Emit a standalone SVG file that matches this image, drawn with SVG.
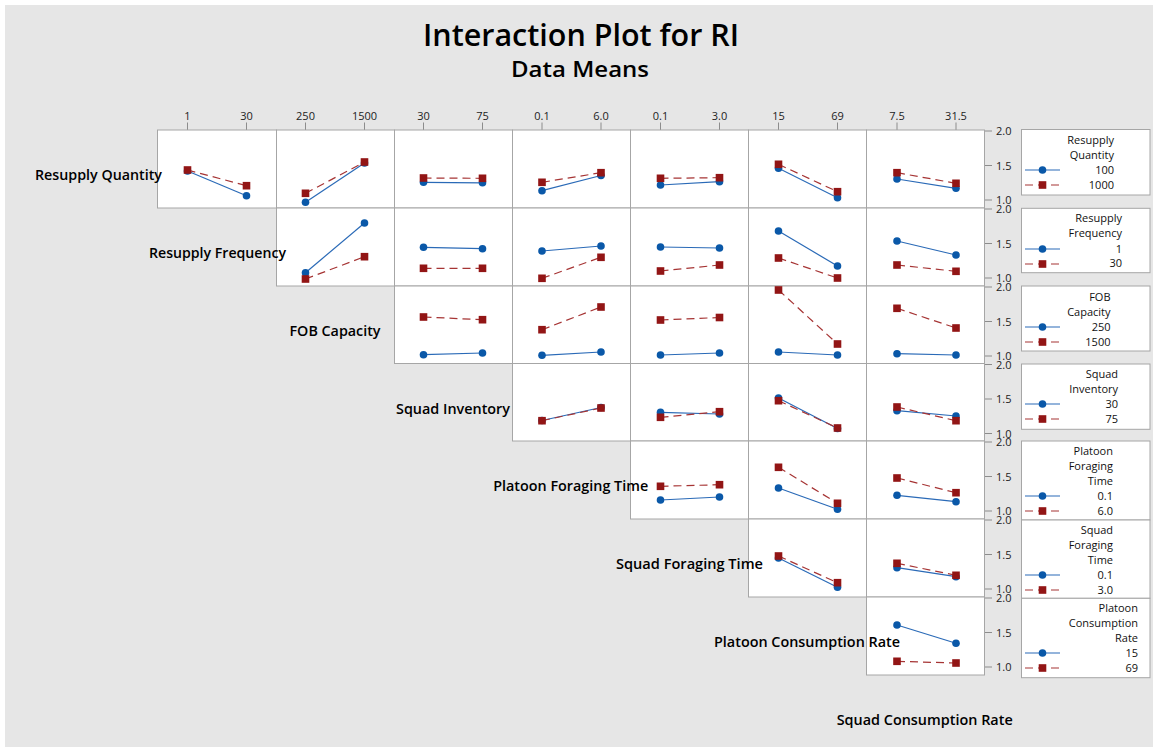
<svg xmlns="http://www.w3.org/2000/svg" xmlns:xlink="http://www.w3.org/1999/xlink" width="1153" height="747" viewBox="0 0 1153 747">
<style>
text{font-family:"Open Sans","Liberation Sans",sans-serif;fill:#000}
.t{font-size:31px;font-weight:600}
.st{font-size:22px;font-weight:600}
.rl{font-size:14.5px;font-weight:600}
.tk{font-size:11px;fill:#222}
.lg{font-size:11px;fill:#111}
.pf{fill:#fff;stroke:#a6a6a6;stroke-width:1}
.lb{fill:#fff;stroke:#a6a6a6;stroke-width:1}
.tl{stroke:#8c8c8c;stroke-width:1}
.bl{fill:none;stroke:#2a6ab7;stroke-width:1.2}
.rd{fill:none;stroke:#a63434;stroke-width:1.2;stroke-dasharray:8 5}
.bm{fill:#0a58a8}
.rm{fill:#921515}
</style>
<defs>
<circle id="c" r="3.8"/>
<rect id="s" x="-3.8" y="-3.8" width="7.6" height="7.6"/>
</defs>
<rect x="0" y="0" width="1153" height="747" fill="#fff"/>
<rect x="5" y="5" width="1148" height="742" fill="#e6e6e6"/>

<g id="title">
<text class="t" x="581" y="46" text-anchor="middle" textLength="316" lengthAdjust="spacingAndGlyphs">Interaction Plot for RI</text>
<text class="st" x="580" y="77" text-anchor="middle" textLength="138" lengthAdjust="spacingAndGlyphs">Data Means</text>
</g>

<g id="top-axis">
<g class="tl">
<line x1="187.5" y1="122.5" x2="187.5" y2="130"/><line x1="246.5" y1="122.5" x2="246.5" y2="130"/>
<line x1="305.5" y1="122.5" x2="305.5" y2="130"/><line x1="364.5" y1="122.5" x2="364.5" y2="130"/>
<line x1="423.5" y1="122.5" x2="423.5" y2="130"/><line x1="482.5" y1="122.5" x2="482.5" y2="130"/>
<line x1="542" y1="122.5" x2="542" y2="130"/><line x1="601" y1="122.5" x2="601" y2="130"/>
<line x1="660.5" y1="122.5" x2="660.5" y2="130"/><line x1="719.5" y1="122.5" x2="719.5" y2="130"/>
<line x1="778.5" y1="122.5" x2="778.5" y2="130"/><line x1="837.5" y1="122.5" x2="837.5" y2="130"/>
<line x1="897" y1="122.5" x2="897" y2="130"/><line x1="956" y1="122.5" x2="956" y2="130"/>
</g>
<g text-anchor="middle">
<text class="tk" x="187.5" y="120">1</text><text class="tk" x="246.5" y="120">30</text>
<text class="tk" x="305.5" y="120">250</text><text class="tk" x="364.5" y="120">1500</text>
<text class="tk" x="423.5" y="120">30</text><text class="tk" x="482.5" y="120">75</text>
<text class="tk" x="542" y="120">0.1</text><text class="tk" x="601" y="120">6.0</text>
<text class="tk" x="660.5" y="120">0.1</text><text class="tk" x="719.5" y="120">3.0</text>
<text class="tk" x="778.5" y="120">15</text><text class="tk" x="837.5" y="120">69</text>
<text class="tk" x="897" y="120">7.5</text><text class="tk" x="956" y="120">31.5</text>
</g>
</g>

<g id="right-axis">
<g class="tl">
<line x1="984.5" y1="131" x2="992" y2="131"/><line x1="984.5" y1="165.5" x2="992" y2="165.5"/><line x1="984.5" y1="200" x2="992" y2="200"/>
<line x1="984.5" y1="209" x2="992" y2="209"/><line x1="984.5" y1="243.5" x2="992" y2="243.5"/><line x1="984.5" y1="278" x2="992" y2="278"/>
<line x1="984.5" y1="287" x2="992" y2="287"/><line x1="984.5" y1="321.5" x2="992" y2="321.5"/><line x1="984.5" y1="356" x2="992" y2="356"/>
<line x1="984.5" y1="364.5" x2="992" y2="364.5"/><line x1="984.5" y1="399" x2="992" y2="399"/><line x1="984.5" y1="433.5" x2="992" y2="433.5"/>
<line x1="984.5" y1="442" x2="992" y2="442"/><line x1="984.5" y1="476.5" x2="992" y2="476.5"/><line x1="984.5" y1="511" x2="992" y2="511"/>
<line x1="984.5" y1="520" x2="992" y2="520"/><line x1="984.5" y1="554.5" x2="992" y2="554.5"/><line x1="984.5" y1="589" x2="992" y2="589"/>
<line x1="984.5" y1="598" x2="992" y2="598"/><line x1="984.5" y1="632.5" x2="992" y2="632.5"/><line x1="984.5" y1="667" x2="992" y2="667"/>
</g>
<g>
<text class="tk" x="996" y="135">2.0</text><text class="tk" x="996" y="169.5">1.5</text><text class="tk" x="996" y="204">1.0</text>
<text class="tk" x="996" y="213">2.0</text><text class="tk" x="996" y="247.5">1.5</text><text class="tk" x="996" y="282">1.0</text>
<text class="tk" x="996" y="291">2.0</text><text class="tk" x="996" y="325.5">1.5</text><text class="tk" x="996" y="360">1.0</text>
<text class="tk" x="996" y="368.5">2.0</text><text class="tk" x="996" y="403">1.5</text><text class="tk" x="996" y="437.5">1.0</text>
<text class="tk" x="996" y="446">2.0</text><text class="tk" x="996" y="480.5">1.5</text><text class="tk" x="996" y="515">1.0</text>
<text class="tk" x="996" y="524">2.0</text><text class="tk" x="996" y="558.5">1.5</text><text class="tk" x="996" y="593">1.0</text>
<text class="tk" x="996" y="602">2.0</text><text class="tk" x="996" y="636.5">1.5</text><text class="tk" x="996" y="671">1.0</text>
</g>
</g>

<!-- Row 1 -->
<g id="p11"><rect class="pf" x="157.5" y="130" width="119" height="78"/>
<polyline class="bl" points="187.5,171 246.5,195.7"/><use href="#c" class="bm" x="187.5" y="171"/><use href="#c" class="bm" x="246.5" y="195.7"/>
<polyline class="rd" points="187.5,170 246.5,185.7"/><use href="#s" class="rm" x="187.5" y="170"/><use href="#s" class="rm" x="246.5" y="185.7"/></g>
<g id="p12"><rect class="pf" x="276.5" y="130" width="118" height="78"/>
<polyline class="bl" points="305.5,202.3 364.5,163"/><use href="#c" class="bm" x="305.5" y="202.3"/><use href="#c" class="bm" x="364.5" y="163"/>
<polyline class="rd" points="305.5,193.3 364.5,162"/><use href="#s" class="rm" x="305.5" y="193.3"/><use href="#s" class="rm" x="364.5" y="162"/></g>
<g id="p13"><rect class="pf" x="394.5" y="130" width="118" height="78"/>
<polyline class="bl" points="423.5,182.3 482.5,182.8"/><use href="#c" class="bm" x="423.5" y="182.3"/><use href="#c" class="bm" x="482.5" y="182.8"/>
<polyline class="rd" points="423.5,178 482.5,178.3"/><use href="#s" class="rm" x="423.5" y="178"/><use href="#s" class="rm" x="482.5" y="178.3"/></g>
<g id="p14"><rect class="pf" x="512.5" y="130" width="118" height="78"/>
<polyline class="bl" points="542,190.7 601,175.5"/><use href="#c" class="bm" x="542" y="190.7"/><use href="#c" class="bm" x="601" y="175.5"/>
<polyline class="rd" points="542,182.3 601,172.7"/><use href="#s" class="rm" x="542" y="182.3"/><use href="#s" class="rm" x="601" y="172.7"/></g>
<g id="p15"><rect class="pf" x="630.5" y="130" width="118" height="78"/>
<polyline class="bl" points="660.5,185 719.5,181.7"/><use href="#c" class="bm" x="660.5" y="185"/><use href="#c" class="bm" x="719.5" y="181.7"/>
<polyline class="rd" points="660.5,178.3 719.5,177.7"/><use href="#s" class="rm" x="660.5" y="178.3"/><use href="#s" class="rm" x="719.5" y="177.7"/></g>
<g id="p16"><rect class="pf" x="748.5" y="130" width="118" height="78"/>
<polyline class="bl" points="778.5,168.3 837.5,197.7"/><use href="#c" class="bm" x="778.5" y="168.3"/><use href="#c" class="bm" x="837.5" y="197.7"/>
<polyline class="rd" points="778.5,164.3 837.5,191.7"/><use href="#s" class="rm" x="778.5" y="164.3"/><use href="#s" class="rm" x="837.5" y="191.7"/></g>
<g id="p17"><rect class="pf" x="866.5" y="130" width="118" height="78"/>
<polyline class="bl" points="897,179 956,188.3"/><use href="#c" class="bm" x="897" y="179"/><use href="#c" class="bm" x="956" y="188.3"/>
<polyline class="rd" points="897,172.7 956,183.3"/><use href="#s" class="rm" x="897" y="172.7"/><use href="#s" class="rm" x="956" y="183.3"/></g>

<!-- Row 2 -->
<g id="p22"><rect class="pf" x="276.5" y="208" width="118" height="78"/>
<polyline class="bl" points="305.5,272.7 364.5,223"/><use href="#c" class="bm" x="305.5" y="272.7"/><use href="#c" class="bm" x="364.5" y="223"/>
<polyline class="rd" points="305.5,279 364.5,256.7"/><use href="#s" class="rm" x="305.5" y="279"/><use href="#s" class="rm" x="364.5" y="256.7"/></g>
<g id="p23"><rect class="pf" x="394.5" y="208" width="118" height="78"/>
<polyline class="bl" points="423.5,247.3 482.5,248.7"/><use href="#c" class="bm" x="423.5" y="247.3"/><use href="#c" class="bm" x="482.5" y="248.7"/>
<polyline class="rd" points="423.5,268.3 482.5,268.3"/><use href="#s" class="rm" x="423.5" y="268.3"/><use href="#s" class="rm" x="482.5" y="268.3"/></g>
<g id="p24"><rect class="pf" x="512.5" y="208" width="118" height="78"/>
<polyline class="bl" points="542,251 601,246"/><use href="#c" class="bm" x="542" y="251"/><use href="#c" class="bm" x="601" y="246"/>
<polyline class="rd" points="542,278.3 601,257.3"/><use href="#s" class="rm" x="542" y="278.3"/><use href="#s" class="rm" x="601" y="257.3"/></g>
<g id="p25"><rect class="pf" x="630.5" y="208" width="118" height="78"/>
<polyline class="bl" points="660.5,247 719.5,248"/><use href="#c" class="bm" x="660.5" y="247"/><use href="#c" class="bm" x="719.5" y="248"/>
<polyline class="rd" points="660.5,271 719.5,265"/><use href="#s" class="rm" x="660.5" y="271"/><use href="#s" class="rm" x="719.5" y="265"/></g>
<g id="p26"><rect class="pf" x="748.5" y="208" width="118" height="78"/>
<polyline class="bl" points="778.5,231 837.5,266"/><use href="#c" class="bm" x="778.5" y="231"/><use href="#c" class="bm" x="837.5" y="266"/>
<polyline class="rd" points="778.5,258 837.5,278"/><use href="#s" class="rm" x="778.5" y="258"/><use href="#s" class="rm" x="837.5" y="278"/></g>
<g id="p27"><rect class="pf" x="866.5" y="208" width="118" height="78"/>
<polyline class="bl" points="897,241 956,255"/><use href="#c" class="bm" x="897" y="241"/><use href="#c" class="bm" x="956" y="255"/>
<polyline class="rd" points="897,265 956,271.3"/><use href="#s" class="rm" x="897" y="265"/><use href="#s" class="rm" x="956" y="271.3"/></g>

<!-- Row 3 -->
<g id="p33"><rect class="pf" x="394.5" y="286" width="118" height="77.5"/>
<polyline class="bl" points="423.5,354.7 482.5,353"/><use href="#c" class="bm" x="423.5" y="354.7"/><use href="#c" class="bm" x="482.5" y="353"/>
<polyline class="rd" points="423.5,317 482.5,319.7"/><use href="#s" class="rm" x="423.5" y="317"/><use href="#s" class="rm" x="482.5" y="319.7"/></g>
<g id="p34"><rect class="pf" x="512.5" y="286" width="118" height="77.5"/>
<polyline class="bl" points="542,355.3 601,352"/><use href="#c" class="bm" x="542" y="355.3"/><use href="#c" class="bm" x="601" y="352"/>
<polyline class="rd" points="542,329.7 601,307"/><use href="#s" class="rm" x="542" y="329.7"/><use href="#s" class="rm" x="601" y="307"/></g>
<g id="p35"><rect class="pf" x="630.5" y="286" width="118" height="77.5"/>
<polyline class="bl" points="660.5,355 719.5,353"/><use href="#c" class="bm" x="660.5" y="355"/><use href="#c" class="bm" x="719.5" y="353"/>
<polyline class="rd" points="660.5,320 719.5,317.5"/><use href="#s" class="rm" x="660.5" y="320"/><use href="#s" class="rm" x="719.5" y="317.5"/></g>
<g id="p36"><rect class="pf" x="748.5" y="286" width="118" height="77.5"/>
<polyline class="bl" points="778.5,352 837.5,355"/><use href="#c" class="bm" x="778.5" y="352"/><use href="#c" class="bm" x="837.5" y="355"/>
<polyline class="rd" points="778.5,290 837.5,344"/><use href="#s" class="rm" x="778.5" y="290"/><use href="#s" class="rm" x="837.5" y="344"/></g>
<g id="p37"><rect class="pf" x="866.5" y="286" width="118" height="77.5"/>
<polyline class="bl" points="897,353.7 956,355"/><use href="#c" class="bm" x="897" y="353.7"/><use href="#c" class="bm" x="956" y="355"/>
<polyline class="rd" points="897,308.3 956,328"/><use href="#s" class="rm" x="897" y="308.3"/><use href="#s" class="rm" x="956" y="328"/></g>

<!-- Row 4 -->
<g id="p44"><rect class="pf" x="512.5" y="363.5" width="118" height="77.5"/>
<polyline class="bl" points="542,420.5 601,407.5"/><use href="#c" class="bm" x="542" y="420.5"/><use href="#c" class="bm" x="601" y="407.5"/>
<polyline class="rd" points="542,420.7 601,408"/><use href="#s" class="rm" x="542" y="420.7"/><use href="#s" class="rm" x="601" y="408"/></g>
<g id="p45"><rect class="pf" x="630.5" y="363.5" width="118" height="77.5"/>
<polyline class="bl" points="660.5,412.3 719.5,414"/><use href="#c" class="bm" x="660.5" y="412.3"/><use href="#c" class="bm" x="719.5" y="414"/>
<polyline class="rd" points="660.5,417.3 719.5,411.7"/><use href="#s" class="rm" x="660.5" y="417.3"/><use href="#s" class="rm" x="719.5" y="411.7"/></g>
<g id="p46"><rect class="pf" x="748.5" y="363.5" width="118" height="77.5"/>
<polyline class="bl" points="778.5,398 837.5,428.5"/><use href="#c" class="bm" x="778.5" y="398"/><use href="#c" class="bm" x="837.5" y="428.5"/>
<polyline class="rd" points="778.5,400.7 837.5,428"/><use href="#s" class="rm" x="778.5" y="400.7"/><use href="#s" class="rm" x="837.5" y="428"/></g>
<g id="p47"><rect class="pf" x="866.5" y="363.5" width="118" height="77.5"/>
<polyline class="bl" points="897,410.7 956,416"/><use href="#c" class="bm" x="897" y="410.7"/><use href="#c" class="bm" x="956" y="416"/>
<polyline class="rd" points="897,407 956,420.7"/><use href="#s" class="rm" x="897" y="407"/><use href="#s" class="rm" x="956" y="420.7"/></g>

<!-- Row 5 -->
<g id="p55"><rect class="pf" x="630.5" y="441" width="118" height="78"/>
<polyline class="bl" points="660.5,500 719.5,497"/><use href="#c" class="bm" x="660.5" y="500"/><use href="#c" class="bm" x="719.5" y="497"/>
<polyline class="rd" points="660.5,486.3 719.5,484.7"/><use href="#s" class="rm" x="660.5" y="486.3"/><use href="#s" class="rm" x="719.5" y="484.7"/></g>
<g id="p56"><rect class="pf" x="748.5" y="441" width="118" height="78"/>
<polyline class="bl" points="778.5,488 837.5,509.3"/><use href="#c" class="bm" x="778.5" y="488"/><use href="#c" class="bm" x="837.5" y="509.3"/>
<polyline class="rd" points="778.5,467.3 837.5,503.3"/><use href="#s" class="rm" x="778.5" y="467.3"/><use href="#s" class="rm" x="837.5" y="503.3"/></g>
<g id="p57"><rect class="pf" x="866.5" y="441" width="118" height="78"/>
<polyline class="bl" points="897,495.3 956,501.7"/><use href="#c" class="bm" x="897" y="495.3"/><use href="#c" class="bm" x="956" y="501.7"/>
<polyline class="rd" points="897,478 956,492.7"/><use href="#s" class="rm" x="897" y="478"/><use href="#s" class="rm" x="956" y="492.7"/></g>

<!-- Row 6 -->
<g id="p66"><rect class="pf" x="748.5" y="519" width="118" height="78"/>
<polyline class="bl" points="778.5,558 837.5,587.3"/><use href="#c" class="bm" x="778.5" y="558"/><use href="#c" class="bm" x="837.5" y="587.3"/>
<polyline class="rd" points="778.5,556 837.5,582.7"/><use href="#s" class="rm" x="778.5" y="556"/><use href="#s" class="rm" x="837.5" y="582.7"/></g>
<g id="p67"><rect class="pf" x="866.5" y="519" width="118" height="78"/>
<polyline class="bl" points="897,567.7 956,576.7"/><use href="#c" class="bm" x="897" y="567.7"/><use href="#c" class="bm" x="956" y="576.7"/>
<polyline class="rd" points="897,563.3 956,575.3"/><use href="#s" class="rm" x="897" y="563.3"/><use href="#s" class="rm" x="956" y="575.3"/></g>

<!-- Row 7 -->
<g id="p77"><rect class="pf" x="866.5" y="597" width="118" height="78"/>
<polyline class="bl" points="897,625 956,643.3"/><use href="#c" class="bm" x="897" y="625"/><use href="#c" class="bm" x="956" y="643.3"/>
<polyline class="rd" points="897,661.3 956,663"/><use href="#s" class="rm" x="897" y="661.3"/><use href="#s" class="rm" x="956" y="663"/></g>

<!-- Row labels (drawn over panels) -->
<g id="row-labels" text-anchor="middle">
<text class="rl" x="98.5" y="180" textLength="127" lengthAdjust="spacingAndGlyphs">Resupply Quantity</text>
<text class="rl" x="217.5" y="258" textLength="137" lengthAdjust="spacingAndGlyphs">Resupply Frequency</text>
<text class="rl" x="335" y="336" textLength="91" lengthAdjust="spacingAndGlyphs">FOB Capacity</text>
<text class="rl" x="453" y="413.5" textLength="114" lengthAdjust="spacingAndGlyphs">Squad Inventory</text>
<text class="rl" x="570.7" y="491" textLength="155" lengthAdjust="spacingAndGlyphs">Platoon Foraging Time</text>
<text class="rl" x="689.5" y="569" textLength="147" lengthAdjust="spacingAndGlyphs">Squad Foraging Time</text>
<text class="rl" x="807" y="647" textLength="186" lengthAdjust="spacingAndGlyphs">Platoon Consumption Rate</text>
<text class="rl" x="924.7" y="725" textLength="176" lengthAdjust="spacingAndGlyphs">Squad Consumption Rate</text>
</g>

<!-- Legends -->
<g id="leg1"><rect class="lb" x="1021.5" y="129.5" width="128.5" height="65.5"/>
<g text-anchor="end"><text class="lg" x="1114" y="144">Resupply</text><text class="lg" x="1114" y="159">Quantity</text><text class="lg" x="1114" y="174">100</text><text class="lg" x="1114" y="189">1000</text></g>
<line class="bl" x1="1025" y1="170" x2="1060" y2="170"/><use href="#c" class="bm" x="1042.5" y="170"/>
<line class="rd" x1="1025" y1="185" x2="1060" y2="185"/><use href="#s" class="rm" x="1042.5" y="185"/></g>

<g id="leg2"><rect class="lb" x="1021.5" y="208.3" width="128.5" height="64.4"/>
<g text-anchor="end"><text class="lg" x="1122" y="222">Resupply</text><text class="lg" x="1122" y="237">Frequency</text><text class="lg" x="1122" y="252.5">1</text><text class="lg" x="1122" y="267">30</text></g>
<line class="bl" x1="1025" y1="249" x2="1060" y2="249"/><use href="#c" class="bm" x="1042.5" y="249"/>
<line class="rd" x1="1025" y1="264" x2="1060" y2="264"/><use href="#s" class="rm" x="1042.5" y="264"/></g>

<g id="leg3"><rect class="lb" x="1021.5" y="286" width="128.5" height="65"/>
<g text-anchor="end"><text class="lg" x="1110.5" y="301">FOB</text><text class="lg" x="1110.5" y="316">Capacity</text><text class="lg" x="1110.5" y="331">250</text><text class="lg" x="1110.5" y="346">1500</text></g>
<line class="bl" x1="1025" y1="327" x2="1060" y2="327"/><use href="#c" class="bm" x="1042.5" y="327"/>
<line class="rd" x1="1025" y1="342" x2="1060" y2="342"/><use href="#s" class="rm" x="1042.5" y="342"/></g>

<g id="leg4"><rect class="lb" x="1021.5" y="364" width="128.5" height="65.3"/>
<g text-anchor="end"><text class="lg" x="1118" y="378">Squad</text><text class="lg" x="1118" y="393">Inventory</text><text class="lg" x="1118" y="408">30</text><text class="lg" x="1118" y="423">75</text></g>
<line class="bl" x1="1025" y1="404" x2="1060" y2="404"/><use href="#c" class="bm" x="1042.5" y="404"/>
<line class="rd" x1="1025" y1="419" x2="1060" y2="419"/><use href="#s" class="rm" x="1042.5" y="419"/></g>

<g id="leg5"><rect class="lb" x="1021.5" y="441" width="128.5" height="79"/>
<g text-anchor="end"><text class="lg" x="1113" y="455">Platoon</text><text class="lg" x="1113" y="470">Foraging</text><text class="lg" x="1113" y="485">Time</text><text class="lg" x="1113" y="500">0.1</text><text class="lg" x="1113" y="515">6.0</text></g>
<line class="bl" x1="1025" y1="496" x2="1060" y2="496"/><use href="#c" class="bm" x="1042.5" y="496"/>
<line class="rd" x1="1025" y1="511" x2="1060" y2="511"/><use href="#s" class="rm" x="1042.5" y="511"/></g>

<g id="leg6"><rect class="lb" x="1021.5" y="520" width="128.5" height="78.3"/>
<g text-anchor="end"><text class="lg" x="1113" y="534">Squad</text><text class="lg" x="1113" y="549">Foraging</text><text class="lg" x="1113" y="564">Time</text><text class="lg" x="1113" y="579">0.1</text><text class="lg" x="1113" y="594">3.0</text></g>
<line class="bl" x1="1025" y1="575" x2="1060" y2="575"/><use href="#c" class="bm" x="1042.5" y="575"/>
<line class="rd" x1="1025" y1="590" x2="1060" y2="590"/><use href="#s" class="rm" x="1042.5" y="590"/></g>

<g id="leg7"><rect class="lb" x="1021.5" y="598.3" width="128.5" height="79.4"/>
<g text-anchor="end"><text class="lg" x="1138" y="612">Platoon</text><text class="lg" x="1138" y="627">Consumption</text><text class="lg" x="1138" y="642">Rate</text><text class="lg" x="1138" y="657">15</text><text class="lg" x="1138" y="672">69</text></g>
<line class="bl" x1="1025" y1="653" x2="1060" y2="653"/><use href="#c" class="bm" x="1042.5" y="653"/>
<line class="rd" x1="1025" y1="668" x2="1060" y2="668"/><use href="#s" class="rm" x="1042.5" y="668"/></g>
</svg>
